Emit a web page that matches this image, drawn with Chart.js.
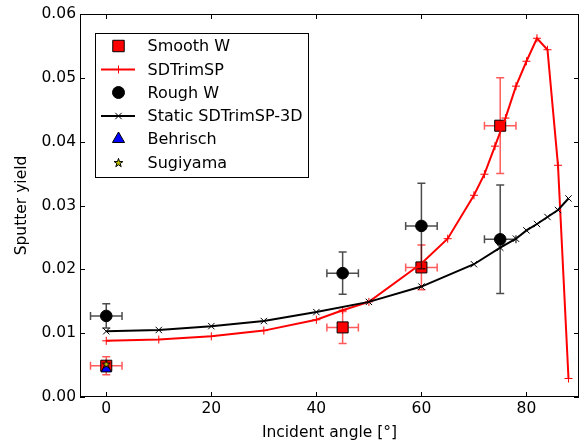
<!DOCTYPE html>
<html>
<head>
<meta charset="utf-8">
<script src="https://cdn.jsdelivr.net/npm/chart.js"></script>
<style>
  body { margin: 0; background: #fff; }
  #wrap { width: 582px; height: 444px; }
</style>
</head>
<body>
<div id="wrap"><canvas id="myChart" width="582" height="444"></canvas></div>
<script>
// values
const smoothAngles = [0, 45, 60, 75];
const smoothYield = [0.0049, 0.0109, 0.0203, 0.0425];
const smoothYErr = [0.0014, 0.0025, 0.0035, 0.0075];
const smoothXErr = [3, 3, 3, 3];

const sdAngles = [0, 10, 20, 30, 40, 45, 50, 60, 65, 70, 72, 74, 76, 78, 80, 82, 84, 86, 88];
const sdYield = [0.0088, 0.0090, 0.0095, 0.0104, 0.0121, 0.0136, 0.0149, 0.0209, 0.0248, 0.0316, 0.0349, 0.0393, 0.0437, 0.0487, 0.0526, 0.0562, 0.0544, 0.0363, 0.0029];

const roughAngles = [0, 45, 60, 75];
const roughYield = [0.0127, 0.0194, 0.0268, 0.0247];
const roughYErr = [0.0019, 0.0033, 0.0067, 0.0085];
const roughXErr = [3, 3, 3, 3];

const staticAngles = [0, 10, 20, 30, 40, 50, 60, 70, 75, 78, 80, 82, 84, 86, 88];
const staticYield = [0.0103, 0.0105, 0.0111, 0.0119, 0.0133, 0.0149, 0.0173, 0.0208, 0.0234, 0.0248, 0.0261, 0.0271, 0.0282, 0.0293, 0.0311];

const behrischAngles = [0];
const behrischYield = [0.0044];
const sugiyamaAngles = [0];
const sugiyamaYield = [0.0052];

const xTicks = [0, 20, 40, 60, 80];
const yTicks = [0, 0.01, 0.02, 0.03, 0.04, 0.05, 0.06];

const FONT = { family: 'DejaVu Sans', size: 15.5 };
const LEGEND_FONT = '16px "DejaVu Sans"';

function pts(xs, ys) {
    return xs.map((x, i) => ({ x: x, y: ys[i] }));
}

// yellow star marker like matplotlib '*'
function makeStar(outer) {
    const c = document.createElement('canvas');
    const s = Math.ceil(outer * 2 + 3);
    c.width = s; c.height = s;
    const g = c.getContext('2d');
    const inner = outer * 0.382;
    g.beginPath();
    for (let k = 0; k < 10; k++) {
        const r = k % 2 === 0 ? outer : inner;
        const a = -Math.PI / 2 + k * Math.PI / 5;
        const px = s / 2 + r * Math.cos(a), py = s / 2 + 0.5 + r * Math.sin(a);
        if (k === 0) g.moveTo(px, py); else g.lineTo(px, py);
    }
    g.closePath();
    g.fillStyle = '#bfbf00';
    g.fill();
    g.lineWidth = 1;
    g.strokeStyle = '#000';
    g.stroke();
    return c;
}
const starPlot = makeStar(4.3);
const starLegend = makeStar(4.6);

// error bars, drawn just under each dataset's markers
const errorBars = {
    id: 'errorBars',
    beforeDatasetDraw(chart, args) {
        const ds = chart.data.datasets[args.index];
        if (!ds.yErr) return;
        const xs = chart.scales.x, ys = chart.scales.y, ctx = chart.ctx;
        const cap = 4;
        ctx.save();
        ctx.strokeStyle = ds.errColor;
        ctx.lineWidth = 1.5;
        ds.data.forEach((p, i) => {
            const cx = xs.getPixelForValue(p.x), cy = ys.getPixelForValue(p.y);
            const y1 = ys.getPixelForValue(p.y + ds.yErr[i]), y2 = ys.getPixelForValue(p.y - ds.yErr[i]);
            const x1 = xs.getPixelForValue(p.x - ds.xErr[i]), x2 = xs.getPixelForValue(p.x + ds.xErr[i]);
            ctx.beginPath();
            ctx.moveTo(cx, y1); ctx.lineTo(cx, y2);
            ctx.moveTo(cx - cap, y1); ctx.lineTo(cx + cap, y1);
            ctx.moveTo(cx - cap, y2); ctx.lineTo(cx + cap, y2);
            ctx.moveTo(x1, cy); ctx.lineTo(x2, cy);
            ctx.moveTo(x1, cy - cap); ctx.lineTo(x1, cy + cap);
            ctx.moveTo(x2, cy - cap); ctx.lineTo(x2, cy + cap);
            ctx.stroke();
        });
        ctx.restore();
    }
};

// frame, inward ticks on all sides, legend box
const frameAndLegend = {
    id: 'frameAndLegend',
    afterDraw(chart) {
        const ctx = chart.ctx, a = chart.chartArea;
        const xs = chart.scales.x, ys = chart.scales.y;
        const tl = 5;
        ctx.save();
        ctx.strokeStyle = '#000';
        ctx.lineWidth = 1;
        ctx.beginPath();
        xTicks.forEach(v => {
            const px = Math.round(xs.getPixelForValue(v)) + 0.5;
            ctx.moveTo(px, a.bottom); ctx.lineTo(px, a.bottom - tl);
            ctx.moveTo(px, a.top); ctx.lineTo(px, a.top + tl);
        });
        yTicks.forEach(v => {
            const py = Math.round(ys.getPixelForValue(v)) + 0.5;
            ctx.moveTo(a.left, py); ctx.lineTo(a.left + tl, py);
            ctx.moveTo(a.right, py); ctx.lineTo(a.right - tl, py);
        });
        ctx.stroke();
        ctx.strokeRect(Math.round(a.left) + 0.5, Math.round(a.top) + 0.5,
            Math.round(a.right - a.left) - 1, Math.round(a.bottom - a.top) - 1);

        // legend
        const bx = 95.5, by = 33.5, bw = 213, bh = 144;
        ctx.fillStyle = '#fff';
        ctx.fillRect(bx, by, bw, bh);
        ctx.strokeRect(bx, by, bw, bh);
        const rowY = [46, 69.5, 92.5, 116, 139, 162.5];
        const mx = 118.5, lx1 = 101, lx2 = 135, tx = 147.5;
        ctx.font = LEGEND_FONT;
        ctx.textBaseline = 'middle';
        ctx.textAlign = 'left';
        chart.data.datasets.forEach((ds, i) => {
            const y = rowY[i];
            if (ds.showLine) {
                ctx.strokeStyle = ds.borderColor;
                ctx.lineWidth = 2;
                ctx.beginPath();
                ctx.moveTo(lx1, y); ctx.lineTo(lx2, y);
                ctx.stroke();
            }
            ctx.fillStyle = ds.pointBackgroundColor || ds.backgroundColor;
            ctx.strokeStyle = ds.pointBorderColor || ds.borderColor;
            ctx.lineWidth = 1;
            Chart.helpers.drawPoint(ctx, {
                pointStyle: ds.legendStyle || ds.pointStyle,
                radius: ds.legendRadius || ds.pointRadius,
                rotation: 0,
                borderWidth: 1
            }, mx, y);
            ctx.fillStyle = '#000';
            ctx.fillText(ds.label, tx, y + 1);
        });
        ctx.restore();
    }
};

const ctx = document.getElementById('myChart').getContext('2d');
const myChart = new Chart(ctx, {
    type: 'scatter',
    data: {
        datasets: [
            {
                label: 'Smooth W',
                data: pts(smoothAngles, smoothYield),
                yErr: smoothYErr, xErr: smoothXErr, errColor: 'rgba(255,0,0,0.65)',
                pointStyle: 'rect', pointRadius: 7.8, legendRadius: 8.1,
                backgroundColor: '#ff0000', borderColor: '#000', borderWidth: 1,
                order: 6
            },
            {
                label: 'SDTrimSP',
                data: pts(sdAngles, sdYield),
                showLine: true, tension: 0,
                borderColor: '#ff0000', borderWidth: 2,
                pointStyle: 'cross', pointRadius: 4, pointBorderWidth: 1,
                pointBorderColor: '#ff0000', pointBackgroundColor: '#ff0000',
                order: 5
            },
            {
                label: 'Rough W',
                data: pts(roughAngles, roughYield),
                yErr: roughYErr, xErr: roughXErr, errColor: 'rgba(0,0,0,0.7)',
                pointStyle: 'circle', pointRadius: 5.8, legendRadius: 6,
                backgroundColor: '#000', borderColor: '#000', borderWidth: 1,
                order: 4
            },
            {
                label: 'Static SDTrimSP-3D',
                data: pts(staticAngles, staticYield),
                showLine: true, tension: 0,
                borderColor: '#000', borderWidth: 2,
                pointStyle: 'crossRot', pointRadius: 4.5, pointBorderWidth: 1,
                pointBorderColor: '#000', pointBackgroundColor: '#000',
                order: 3
            },
            {
                label: 'Behrisch',
                data: pts(behrischAngles, behrischYield),
                pointStyle: 'triangle', pointRadius: 6, legendRadius: 7,
                backgroundColor: '#0000ff', borderColor: '#000', borderWidth: 1,
                order: 2
            },
            {
                label: 'Sugiyama',
                data: pts(sugiyamaAngles, sugiyamaYield),
                pointStyle: starPlot, legendStyle: starLegend, pointRadius: 5,
                backgroundColor: '#bfbf00', borderColor: '#000', borderWidth: 1,
                order: 1
            }
        ]
    },
    options: {
        responsive: false,
        animation: false,
        events: [],
        layout: { autoPadding: false, padding: { top: 14, right: 3, left: 0, bottom: 0 } },
        plugins: {
            legend: { display: false },
            tooltip: { enabled: false }
        },
        scales: {
            x: {
                type: 'linear',
                min: -5, max: 90,
                afterFit: s => { s.height = 47; s.paddingLeft = 0; s.paddingRight = 0; },
                ticks: {
                    stepSize: 20, includeBounds: false, padding: 3,
                    color: '#000', font: FONT, maxRotation: 0
                },
                grid: { display: false, drawTicks: false },
                border: { display: false },
                title: {
                    display: true, text: 'Incident angle [°]',
                    color: '#000', font: FONT, padding: { top: 0, bottom: 2 }
                }
            },
            y: {
                min: 0, max: 0.06,
                afterFit: s => { s.width = 80; },
                ticks: {
                    stepSize: 0.01, padding: 4, color: '#000', font: FONT,
                    callback: v => v.toFixed(2)
                },
                grid: { display: false, drawTicks: false },
                border: { display: false },
                title: {
                    display: true, text: 'Sputter yield',
                    color: '#000', font: FONT, padding: { top: 13, bottom: 0 }
                }
            }
        }
    },
    plugins: [errorBars, frameAndLegend]
});
</script>
</body>
</html>
